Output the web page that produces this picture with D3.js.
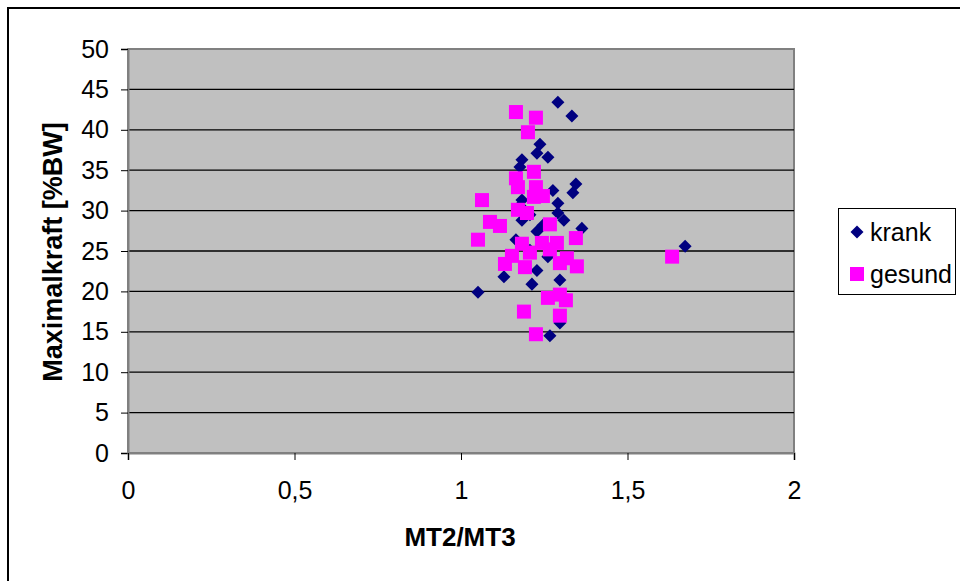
<!DOCTYPE html>
<html><head><meta charset="utf-8">
<script src="https://cdn.jsdelivr.net/npm/d3@7"></script>
<style>body{margin:0;background:#fff}svg{display:block}text{font-family:"Liberation Sans",Arial,sans-serif}</style>
</head><body>
<svg id="c" width="960" height="581"></svg>
<script>
const xTicks = [0, 0.5, 1, 1.5, 2];
const xTickLabels = ["0", "0,5", "1", "1,5", "2"];
const yTicks = [0, 5, 10, 15, 20, 25, 30, 35, 40, 45, 50];
const seriesNames = ["krank", "gesund"];
const krankX = [1.291,1.333,1.237,1.228,1.261,1.183,1.177,1.345,1.336,1.276,1.291,1.183,1.177,1.207,1.183,1.291,1.309,1.363,1.228,1.165,1.261,1.228,1.129,1.213,1.297,1.051,1.297,1.267,1.673,1.246,1.207];
const krankY = [43.4,41.7,38.2,37.1,36.6,36.3,35.4,33.3,32.2,32.5,30.9,31.3,30.6,29.5,28.8,29.7,28.8,27.8,27.4,26.4,24.3,22.6,21.8,20.9,21.4,19.9,16.1,14.5,25.6,28.2,25.1];
const gesundX = [1.165,1.225,1.201,1.219,1.165,1.171,1.225,1.219,1.246,1.063,1.171,1.198,1.087,1.117,1.267,1.345,1.051,1.183,1.243,1.288,1.267,1.153,1.207,1.132,1.192,1.297,1.318,1.348,1.261,1.297,1.315,1.189,1.297,1.225,1.634];
const gesundY = [42.2,41.5,39.7,34.8,34.0,32.9,32.9,31.7,31.8,31.3,30.1,29.7,28.6,28.1,28.3,26.6,26.4,25.9,26.0,26.0,25.2,24.4,24.8,23.4,23.0,23.5,24.1,23.1,19.2,19.6,18.9,17.5,17.0,14.7,24.3];

const svg = d3.select("#c");
const L = 128, R = 794, T = 49, B = 453;
const x = d3.scaleLinear().domain([0, 2]).range([L, R]);
const y = d3.scaleLinear().domain([0, 50]).range([B, T]);

// outer frame (right/bottom clipped)
svg.append("rect").attr("x", 8).attr("y", 8).attr("width", 1000).attr("height", 1000)
  .attr("fill", "none").attr("stroke", "#000").attr("stroke-width", 2);

// plot area
svg.append("rect").attr("x", L).attr("y", T).attr("width", R - L).attr("height", B - T)
  .attr("fill", "#c0c0c0").attr("stroke", "#808080").attr("stroke-width", 2);

// gridlines
svg.append("g").selectAll("line").data(yTicks.filter(d => d > 0 && d < 50)).join("line")
  .attr("x1", L).attr("x2", R).attr("y1", d => y(d)).attr("y2", d => y(d))
  .attr("stroke", "#000").attr("stroke-width", 1.3);

// axes
const yAxis = d3.axisLeft(y).tickValues(yTicks).tickSize(7).tickPadding(12);
const gy = svg.append("g").attr("transform", `translate(${L},0)`).call(yAxis);
const xAxis = d3.axisBottom(x).tickValues(xTicks).tickFormat((d, i) => xTickLabels[i]).tickSize(7).tickPadding(21);
const gx = svg.append("g").attr("transform", `translate(0,${B})`).call(xAxis);
[gy, gx].forEach(g => {
  g.select(".domain").attr("stroke", "#808080").attr("stroke-width", 2);
  g.selectAll(".tick line").attr("stroke", "#000");
  g.selectAll(".tick text").attr("fill", "#000").style("font-size", "25px")
    .style("font-family", "'Liberation Sans', Arial, sans-serif");
});

// markers
const diamond = d3.symbol().type(d3.symbolDiamond2).size(108);
const krank = krankX.map((v, i) => [v, krankY[i]]);
const gesund = gesundX.map((v, i) => [v, gesundY[i]]);
svg.append("g").selectAll("path").data(krank).join("path")
  .attr("d", diamond).attr("transform", d => `translate(${x(d[0])},${y(d[1])})`)
  .attr("fill", "#000080");
svg.append("g").selectAll("rect").data(gesund).join("rect")
  .attr("x", d => x(d[0]) - 7).attr("y", d => y(d[1]) - 7).attr("width", 14).attr("height", 14)
  .attr("fill", "#ff00ff");

// axis titles
svg.append("text").attr("x", 460).attr("y", 546).attr("text-anchor", "middle")
  .style("font-size", "26px").style("font-weight", "bold").text("MT2/MT3");
svg.append("text").attr("transform", "translate(62,252) rotate(-90)").attr("text-anchor", "middle")
  .style("font-size", "27px").style("font-weight", "bold").text("Maximalkraft [%BW]");

// legend
const lg = svg.append("g");
lg.append("rect").attr("x", 838.5).attr("y", 208.5).attr("width", 117).attr("height", 86)
  .attr("fill", "#fff").attr("stroke", "#000").attr("stroke-width", 1);
lg.append("path").attr("d", diamond).attr("transform", "translate(857,232)").attr("fill", "#000080");
lg.append("rect").attr("x", 850).attr("y", 267).attr("width", 14).attr("height", 14).attr("fill", "#ff00ff");
seriesNames.forEach((n, i) => {
  lg.append("text").attr("x", 870).attr("y", 241 + i * 42).style("font-size", "25px").text(n);
});
</script>
</body></html>
